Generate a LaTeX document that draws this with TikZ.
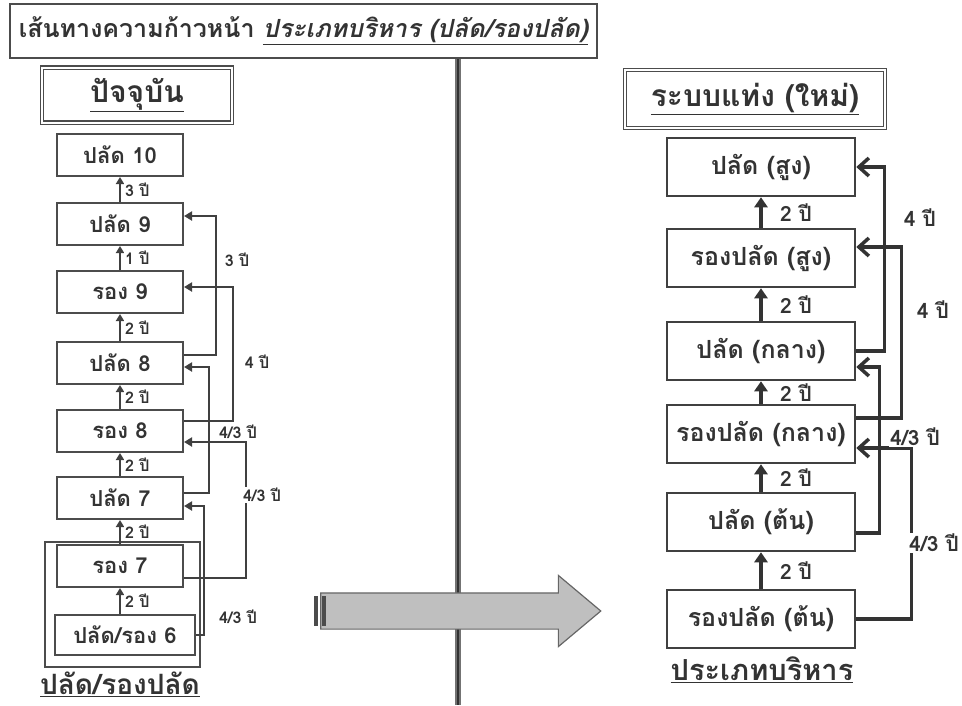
\documentclass[tikz,border=0pt]{standalone}
\usepackage{fontspec}
\newfontfamily\thai[Script=Thai]{Loma}
\usepackage{tikz}
\usetikzlibrary{arrows.meta,shapes.arrows}

\begin{document}
\begin{tikzpicture}[x=1pt,y=-1pt,
    every node/.style={text=black!80},
    lbox/.style={draw=black!70, line width=2pt, minimum width=126pt, minimum height=42pt, font=\thai\bfseries\fontsize{22}{22}\selectfont},
    rbox/.style={draw=black!75, line width=2.5pt, minimum width=188pt, minimum height=58pt, font=\thai\bfseries\fontsize{25}{25}\selectfont},
    headbox/.style={draw=black!70, double, double distance=2pt, line width=1.2pt, font=\thai\bfseries\fontsize{30}{30}\selectfont},
    footer/.style={font=\thai\bfseries\fontsize{28}{28}\selectfont},
    lstep/.style={draw=black!75, line width=2pt, -{Triangle[length=7pt,width=8pt]}},
    rstep/.style={draw=black!80, line width=4pt, -{Triangle[length=10pt,width=13pt]}},
    lconn/.style={draw=black!75, line width=2.2pt, -{Triangle[length=8pt,width=9pt]}},
    rconn/.style={draw=black!80, line width=3.5pt, -{Straight Barb[length=10pt,width=18pt]}},
    lyrs/.style={font=\thai\bfseries\fontsize{16}{16}\selectfont, fill=white, inner sep=1pt},
    ryrs/.style={font=\thai\bfseries\fontsize{21}{21}\selectfont, fill=white, inner sep=1pt},
]
    \useasboundingbox (0,0) rectangle (962,705);

    \draw[black!55, line width=6pt] (458,58) -- (458,705);
    \draw[black!80, line width=1.5pt] (458,58) -- (458,705);

    \node[draw=black!70, line width=2.5pt, minimum width=587pt, minimum height=54pt, font=\thai\bfseries\fontsize{25}{25}\selectfont] (title) at (303.5,31)
        {เส้นทางความก้าวหน้า \itshape\underline{ประเภทบริหาร (ปลัด/รองปลัด)}};

    \node[headbox, minimum width=190pt, minimum height=55pt] (now) at (137,95) {\underline{ปัจจุบัน}};
    \node[headbox, minimum width=260pt, minimum height=58pt] (new) at (755,99) {\underline{ระบบแท่ง (ใหม่)}};

    \node[lbox] (p10) at (120,155) {ปลัด 10};
    \node[lbox] (p9) at (120,224) {ปลัด 9};
    \node[lbox] (r9) at (120,292) {รอง 9};
    \node[lbox] (p8) at (120,363) {ปลัด 8};
    \node[lbox] (r8) at (120,431) {รอง 8};
    \node[lbox] (p7) at (120,498) {ปลัด 7};
    \node[lbox] (r7) at (120,566) {รอง 7};
    \node[lbox, minimum width=140pt, minimum height=40pt] (pr6) at (125,635) {ปลัด/รอง 6};
    \draw[black!70, line width=2pt] (45,542) rectangle (200,667);
    \node[footer] (left) at (120,684) {\underline{ปลัด/รองปลัด}};

    \draw[lstep] (p9) -- (p10) node[midway, right=3pt, lyrs] {3 ปี};
    \draw[lstep] (r9) -- (p9) node[midway, right=3pt, lyrs] {1 ปี};
    \draw[lstep] (p8) -- (r9) node[midway, right=3pt, lyrs] {2 ปี};
    \draw[lstep] (r8) -- (p8) node[midway, right=3pt, lyrs] {2 ปี};
    \draw[lstep] (p7) -- (r8) node[midway, right=3pt, lyrs] {2 ปี};
    \draw[lstep] (r7) -- (p7) node[midway, right=3pt, lyrs] {2 ปี};
    \draw[lstep] (pr6.north -| r7.south) -- (r7.south) node[midway, right=3pt, lyrs] {2 ปี};

    \draw[lconn] ([yshift=8pt]p8.east) -- ++(32,0) |- ([yshift=8pt]p9.east);
    \draw[lconn] ([yshift=10pt]r8.east) -- ++(49,0) |- ([yshift=5pt]r9.east);
    \draw[lconn] ([yshift=5pt]p7.east) -- ++(25,0) |- ([yshift=-4pt]p8.east);
    \draw[lconn] ([yshift=-12pt]r7.east) -- ++(62,0) |- ([yshift=-11pt]r8.east);
    \draw[lconn] (pr6.east) -- ++(8,0) |- ([yshift=-8pt]p7.east);
    \node[lyrs] (y98) at (237,260) {3 ปี};
    \node[lyrs] (yr98) at (257,362) {4 ปี};
    \node[lyrs] (y87) at (238,432) {4/3 ปี};
    \node[lyrs] (yr87) at (262,495) {4/3 ปี};
    \node[lyrs] (y76) at (238,617) {4/3 ปี};

    \node[rbox] (ps) at (761,167) {ปลัด (สูง)};
    \node[rbox] (rs) at (761,258) {รองปลัด (สูง)};
    \node[rbox] (pm) at (761,351) {ปลัด (กลาง)};
    \node[rbox] (rm) at (761,434) {รองปลัด (กลาง)};
    \node[rbox] (pl) at (761,522) {ปลัด (ต้น)};
    \node[rbox] (rl) at (761,619) {รองปลัด (ต้น)};
    \node[footer, font=\thai\bfseries\fontsize{29}{29}\selectfont] (right) at (762,670) {\underline{ประเภทบริหาร}};

    \draw[rstep] (rs) -- (ps) node[midway, right=16pt, ryrs] {2 ปี};
    \draw[rstep] (pm) -- (rs) node[midway, right=16pt, ryrs] {2 ปี};
    \draw[rstep] (rm) -- (pm) node[midway, right=16pt, ryrs] {2 ปี};
    \draw[rstep] (pl) -- (rm) node[midway, right=16pt, ryrs] {2 ปี};
    \draw[rstep] (rl) -- (pl) node[midway, right=16pt, ryrs] {2 ปี};

    \draw[rconn] (pm.east) -- ++(28,0) |- (ps.east);
    \draw[rconn] ([yshift=16pt]rm.east) -- ++(45,0) |- ([yshift=11pt]rs.east);
    \draw[rconn] ([yshift=-11pt]pl.east) -- ++(23,0) |- ([yshift=-16pt]pm.east);
    \draw[rconn] (rl.east) -- ++(55,0) |- ([yshift=-14pt]rm.east);
    \node[ryrs] (yps) at (920,218) {4 ปี};
    \node[ryrs] (yrs) at (933,310) {4 ปี};
    \node[ryrs] (ypm) at (915,437) {4/3 ปี};
    \node[ryrs] (yrm) at (934,543) {4/3 ปี};

    \node[single arrow, draw=black!60, line width=1.2pt, fill=black!25, minimum height=280pt, single arrow head extend=17.5pt, single arrow head indent=0pt, single arrow tip angle=80, inner xsep=0pt, inner ysep=17.5pt] (shift) at (450,611) {};
    \fill[black!70] (314,596) rectangle (318,626);
    \fill[black!70] (322,596) rectangle (326,626);
\end{tikzpicture}
\end{document}
